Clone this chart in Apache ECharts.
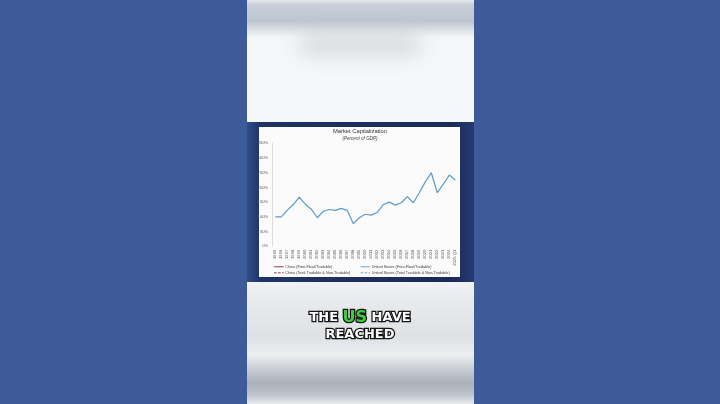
<!DOCTYPE html>
<html>
<head>
<meta charset="utf-8">
<script src="https://cdn.jsdelivr.net/npm/echarts@6/dist/echarts.min.js"></script>
<style>
html,body{margin:0;padding:0;background:#3d5a99;}
#c{width:720px;height:404px;}
</style>
</head>
<body>
<div id="c"></div>
<script>
// ---- data ----
const years = ['1995','1996','1997','1998','1999','2000','2001','2002','2003','2004','2005','2006','2007','2008','2009','2010','2011','2012','2013','2014','2015','2016','2017','2018','2019','2020','2021','2022','2023','2024','2025 Q1'];
const usFreeFloat = [100,100,123,142,167,143,126,97,119,125,122,129,122,77,97,109,106,115,142,150,140,148,169,148,182,219,250,182,211,242,225];
const chinaFreeFloat = [];
const chinaTotal = [];
const usTotal = [];
const yTicks = [0,50,100,150,200,250,300,350];
const seriesNames = ['China (Free-Float/Tradable)','United States (Free-Float/Tradable)','China (Total Tradable & Non-Tradable)','United States (Total Tradable & Non-Tradable)'];

const chart = echarts.init(document.getElementById('c'), null, {renderer:'canvas'});

const bgGraphics = [
  {type:'rect', z:-20, shape:{x:0,y:0,width:720,height:404}, style:{fill:'#3d5a99'}},
  {type:'rect', z:-19, shape:{x:247,y:0,width:227,height:404}, style:{fill:'#f6f7f8'}},
  // top blurred band
  {type:'rect', z:-18, shape:{x:247,y:0,width:227,height:38}, style:{fill:new echarts.graphic.LinearGradient(0,0,0,1,[
    {offset:0,color:'#e6e9ed'},{offset:0.12,color:'#c8cfd8'},{offset:0.55,color:'#bcc4ce'},{offset:0.8,color:'#dfe3e7'},{offset:1,color:'#f6f7f8'}])}},
  // blurred blob (shadow of an off-screen rect)
  {type:'rect', z:-17, shape:{x:300,y:-600,width:120,height:16}, style:{fill:'#cfd2d6', shadowBlur:22, shadowColor:'rgba(195,199,205,0.85)', shadowOffsetY:636}},
  // bottom blurred band
  {type:'rect', z:-18, shape:{x:247,y:282,width:227,height:122}, style:{fill:new echarts.graphic.LinearGradient(0,0,0,1,[
    {offset:0,color:'#f2f3f4'},{offset:0.15,color:'#e8eaec'},{offset:0.45,color:'#dfe2e5'},{offset:0.6,color:'#eceef0'},
    {offset:0.72,color:'#c6cbd1'},{offset:0.83,color:'#aab1b9'},{offset:0.92,color:'#bcc2c9'},{offset:1,color:'#e8eaed'}])}},
  // slide frame
  {type:'rect', z:-16, shape:{x:247,y:122,width:227,height:160}, style:{fill:new echarts.graphic.LinearGradient(0,0,1,0,[
    {offset:0,color:'#2d4e88'},{offset:0.06,color:'#1f3366'},{offset:0.9,color:'#1b2a58'},{offset:1,color:'#243a70'}])}},
  {type:'rect', z:-15, shape:{x:259,y:127,width:201,height:150}, style:{fill:'#fbfbfb'}},
  // caption
  {type:'text', z:100, x:360, y:318, style:{
    text:'{w|THE }{g|US}{w| HAVE}', align:'center', verticalAlign:'middle', textAlign:'center', textVerticalAlign:'middle',
    rich:{
      w:{fontSize:13, fontWeight:'bold', fontFamily:'DejaVu Sans', fill:'#ffffff', stroke:'#151515', lineWidth:2.6},
      g:{fontSize:16, fontWeight:'bold', fontFamily:'DejaVu Sans', fill:'#3ccf3c', stroke:'#151515', lineWidth:2.6}
    }}},
  {type:'text', z:100, x:360, y:334.7, style:{
    text:'{w|REACHED}', align:'center', verticalAlign:'middle', textAlign:'center', textVerticalAlign:'middle',
    rich:{ w:{fontSize:13, fontWeight:'bold', fontFamily:'DejaVu Sans', fill:'#ffffff', stroke:'#151515', lineWidth:2.6} }}}
];

const legendBase = {
  orient:'vertical', top:264.8, itemWidth:9.5, itemHeight:4, itemGap:2, padding:0,
  itemStyle:{opacity:0},
  lineStyle:{width:0.9},
  textStyle:{fontSize:3.8, color:'#404040', fontFamily:'Liberation Sans', lineHeight:4, padding:[0,0,0,-3.5]}
};

const option = {
  backgroundColor:'transparent',
  animation:false,
  graphic:{elements:bgGraphics},
  title:{
    text:'Market Capitalization', subtext:'(Percent of GDP)', left:'center', top:128.2, itemGap:1.6, padding:0,
    textStyle:{fontSize:5.8, fontWeight:'normal', color:'#333', fontFamily:'Liberation Sans'},
    subtextStyle:{fontSize:4.6, fontStyle:'italic', color:'#444', fontFamily:'Liberation Sans'}
  },
  legend:[
    Object.assign({}, legendBase, {left:273.7, data:[seriesNames[0], seriesNames[2]]}),
    Object.assign({}, legendBase, {left:360.2, data:[seriesNames[1], seriesNames[3]]})
  ],
  grid:{left:272.3, right:261.7, top:143.3, bottom:157.7},
  xAxis:{
    type:'category', data:years, boundaryGap:true,
    axisLine:{show:false}, axisTick:{show:false},
    axisLabel:{rotate:90, interval:0, fontSize:4.2, color:'#595959', margin:3.4, fontFamily:'Liberation Sans'}
  },
  yAxis:{
    type:'value', min:yTicks[0], max:yTicks[yTicks.length-1], interval:50,
    axisLine:{show:true, lineStyle:{color:'#d4d4d4', width:0.8}}, axisTick:{show:false}, splitLine:{show:false},
    axisLabel:{formatter:'{value}%', fontSize:4.2, color:'#595959', margin:4, fontFamily:'Liberation Sans'}
  },
  series:[
    {name:seriesNames[0], type:'line', data:chinaFreeFloat, symbol:'none', lineStyle:{color:'#8c1d30', width:1}, itemStyle:{color:'#8c1d30'}},
    {name:seriesNames[1], type:'line', data:usFreeFloat, symbol:'none', lineStyle:{color:'#5b9bc8', width:1.2}, itemStyle:{color:'#5b9bc8'}},
    {name:seriesNames[2], type:'line', data:chinaTotal, symbol:'none', lineStyle:{color:'#8c1d30', width:1, type:[2.5,1.5]}, itemStyle:{color:'#8c1d30'}},
    {name:seriesNames[3], type:'line', data:usTotal, symbol:'none', lineStyle:{color:'#4fa3c4', width:1, type:[2.5,1.5]}, itemStyle:{color:'#4fa3c4'}}
  ]
};
chart.setOption(option);
</script>
</body>
</html>
